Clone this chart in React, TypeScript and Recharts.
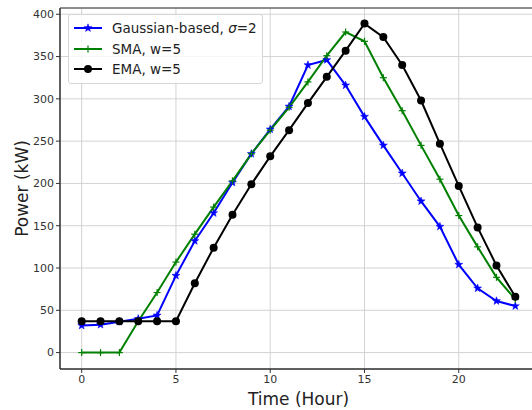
import React from 'react';
import { CartesianGrid, Line, LineChart, ReferenceArea, XAxis, YAxis } from 'recharts';

const hours = [0, 1, 2, 3, 4, 5, 6, 7, 8, 9, 10, 11, 12, 13, 14, 15, 16, 17, 18, 19, 20, 21, 22, 23];
const gaussian = [32, 33, 36.5, 40, 44, 91, 132, 165, 201, 235, 264, 291, 340, 346, 316, 279, 245, 212, 179, 149, 104, 76, 61, 55];
const sma = [0, 0, 0, 37, 71, 107, 140, 172, 203, 235, 263, 290, 320, 351, 379, 368, 325, 286, 245, 205, 162, 125, 89, 63];
const ema = [37, 37, 37, 37, 37, 37, 82, 124, 163, 199, 232, 263, 295, 326, 357, 389, 373, 340, 298, 247, 197, 148, 103, 66];
const xTicks = [0, 5, 10, 15, 20];
const yTicks = [0, 50, 100, 150, 200, 250, 300, 350, 400];

const data = hours.map((h, i) => ({ hour: h, gaussian: gaussian[i], sma: sma[i], ema: ema[i] }));

const font = 'DejaVu Sans, sans-serif';

const StarDot = (props: any) => {
  const { cx, cy } = props;
  if (cx == null || cy == null) return null;
  const pts: string[] = [];
  for (let k = 0; k < 10; k++) {
    const r = k % 2 === 0 ? 4.2 : 1.7;
    const a = -Math.PI / 2 + (k * Math.PI) / 5;
    pts.push(`${cx + r * Math.cos(a)},${cy + r * Math.sin(a)}`);
  }
  return <polygon points={pts.join(' ')} fill="#0000ff" stroke="#0000ff" strokeWidth={0.5} />;
};

const PlusDot = (props: any) => {
  const { cx, cy } = props;
  if (cx == null || cy == null) return null;
  return (
    <g stroke="#008000" strokeWidth={1.2}>
      <line x1={cx - 3.5} y1={cy} x2={cx + 3.5} y2={cy} />
      <line x1={cx} y1={cy - 3.5} x2={cx} y2={cy + 3.5} />
    </g>
  );
};

const CircleDot = (props: any) => {
  const { cx, cy } = props;
  if (cx == null || cy == null) return null;
  return <circle cx={cx} cy={cy} r={4} fill="#000" />;
};

const legendItems = [
  { label: <>Gaussian-based, <i>σ</i>=2</>, color: '#0000ff', Dot: StarDot },
  { label: <>SMA, w=5</>, color: '#008000', Dot: PlusDot },
  { label: <>EMA, w=5</>, color: '#000000', Dot: CircleDot },
];

const LegendBox = () => (
  <div
    style={{
      position: 'absolute',
      left: 68,
      top: 14,
      background: 'rgba(255,255,255,0.8)',
      border: '1px solid #d6d6d6',
      borderRadius: 3,
      padding: '3px 5px 3px 3px',
      fontFamily: font,
      fontSize: 13.5,
      color: '#222',
    }}
  >
    {legendItems.map((it, i) => (
      <div key={i} style={{ display: 'flex', alignItems: 'center', height: 20.5 }}>
        <svg width={32} height={12} style={{ marginRight: 8 }}>
          <line x1={2} y1={6} x2={30} y2={6} stroke={it.color} strokeWidth={2} />
          <it.Dot cx={16} cy={6} />
        </svg>
        <span>{it.label}</span>
      </div>
    ))}
  </div>
);

const App = () => {
  return (
    <div style={{ position: 'fixed', left: 0, top: 0, width: 532, height: 410, overflow: 'hidden', background: '#fff' }}>
      <LineChart width={560} height={410} data={data} margin={{ top: 8, right: 23, bottom: 0, left: 0 }}>
        <CartesianGrid stroke="#d3d3d3" strokeWidth={1} />
        <XAxis
          dataKey="hour"
          type="number"
          domain={[-1.15, 24.15]}
          ticks={xTicks}
          allowDataOverflow
          height={41}
          tickSize={4}
          tick={{ fontSize: 11, fill: '#333', fontFamily: font }}
          stroke="#333"
          label={{ value: 'Time (Hour)', position: 'insideBottom', offset: 5, fontSize: 17, fill: '#222', fontFamily: font }}
        />
        <YAxis
          type="number"
          domain={[-19.4, 407.4]}
          ticks={yTicks}
          allowDataOverflow
          width={60}
          tickSize={4}
          tick={{ fontSize: 11, fill: '#333', fontFamily: font }}
          stroke="#333"
          label={{ value: 'Power (kW)', angle: -90, position: 'insideLeft', offset: 22, fontSize: 17, fill: '#222', fontFamily: font, style: { textAnchor: 'middle' } }}
        />
        <ReferenceArea x1={-1.15} x2={24.15} y1={-19.4} y2={407.4} fill="none" stroke="#333" strokeWidth={1} />
        <Line dataKey="gaussian" stroke="#0000ff" strokeWidth={2} dot={<StarDot />} activeDot={false} isAnimationActive={false} />
        <Line dataKey="sma" stroke="#008000" strokeWidth={2} dot={<PlusDot />} activeDot={false} isAnimationActive={false} />
        <Line dataKey="ema" stroke="#000000" strokeWidth={2} dot={<CircleDot />} activeDot={false} isAnimationActive={false} />
      </LineChart>
      <LegendBox />
    </div>
  );
};

export default App;
